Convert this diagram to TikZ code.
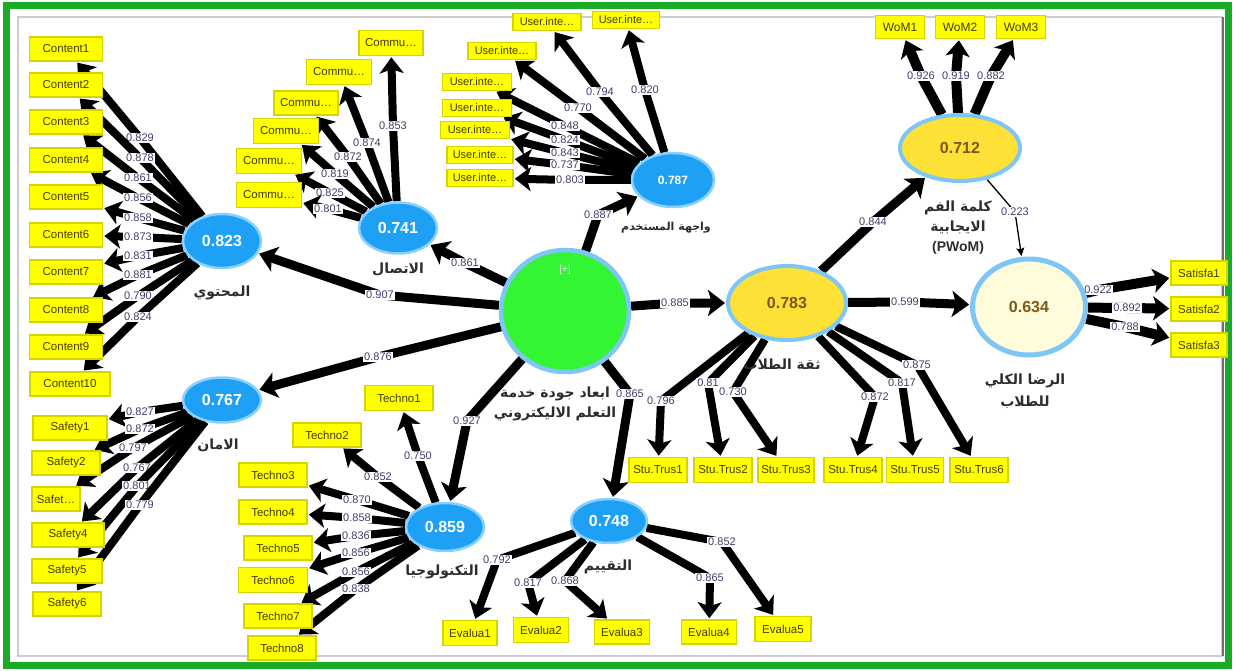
\documentclass[tikz,border=0pt]{standalone}
\usepackage{fontspec}
\setmainfont{Liberation Sans}
\newfontfamily\arabicfont[Script=Arabic]{DejaVu Sans}
\TeXXeTstate=1
\usetikzlibrary{arrows.meta,shapes.geometric}

\definecolor{frameGreen}{RGB}{26,172,38}
\definecolor{innerGray}{RGB}{205,205,205}
\definecolor{edgeGray}{RGB}{110,110,110}
\definecolor{boxFill}{RGB}{255,255,0}
\definecolor{boxEdge}{RGB}{212,212,0}
\definecolor{boxText}{RGB}{70,60,0}
\definecolor{lvBlue}{RGB}{30,160,245}
\definecolor{lvEdge}{RGB}{135,208,255}
\definecolor{ringBlue}{RGB}{125,198,245}
\definecolor{coreGreen}{RGB}{52,245,52}
\definecolor{gold}{RGB}{253,225,55}
\definecolor{cream}{RGB}{254,252,218}
\definecolor{brownText}{RGB}{125,88,22}
\definecolor{numText}{RGB}{62,62,108}
\definecolor{arText}{RGB}{45,45,45}

% right-to-left Arabic run
\newcommand\artxt[1]{{\arabicfont\beginR #1\endR}}
% loading arrow: source, target, label point, label
\newcommand\lnk[5][]{\draw[loading,#1] (#2) -- #4 node[num]{#5} -- (#3);}

\pgfdeclarelayer{links}
\pgfsetlayers{links,main}

\begin{document}
\begin{tikzpicture}[x=1pt,y=-1pt,
  ind/.style={rectangle, draw=boxEdge, fill=boxFill, line width=1.6pt, inner sep=0pt,
    minimum height=24pt, text=boxText, font=\fontsize{11.5}{13}\selectfont},
  indsm/.style={ind, minimum height=17pt, font=\fontsize{11}{12}\selectfont},
  lv/.style={ellipse, draw=lvEdge, fill=lvBlue, line width=2.5pt, inner sep=0pt,
    text=white, font=\bfseries\fontsize{16}{18}\selectfont},
  lvgold/.style={ellipse, draw=ringBlue, fill=gold, line width=4pt, inner sep=0pt,
    text=brownText, font=\bfseries\fontsize{16}{18}\selectfont},
  lvcream/.style={lvgold, fill=cream, line width=5pt},
  arlab/.style={align=center, text=arText, font=\arabicfont\bfseries\fontsize{14}{20}\selectfont},
  num/.style={fill=white, inner sep=1pt, text=numText, font=\fontsize{11}{12}\selectfont},
  loading/.style={line width=8pt, line join=round,
    -{Stealth[length=16pt,width=24pt,inset=4pt]}, shorten >=1pt},
  structl/.style={line width=9pt, -{Stealth[length=17pt,width=26pt,inset=4pt]}},
  thinl/.style={line width=1.3pt, -{Stealth[length=8pt,width=8pt,inset=1.5pt]}}
]
\useasboundingbox (0,0) rectangle (1234,671);

% frame
\draw[innerGray, line width=1.2pt] (18,17) rectangle (1222,656);
\draw[edgeGray, line width=1.5pt] (1223,17) -- (1223,656);
\draw[frameGreen, line width=7pt] (6,6) rectangle (1228,665);

% latent variables
\node[lv, minimum width=78pt, minimum height=54pt] (cont) at (222,241) {0.823};
\node[lv, minimum width=78pt, minimum height=51pt] (comm) at (398,228) {0.741};
\node[lv, minimum width=82pt, minimum height=54pt, font=\bfseries\fontsize{12}{14}\selectfont] (ui) at (673,180) {0.787};
\node[ellipse, draw=ringBlue, fill=coreGreen, line width=4.5pt, minimum width=128pt, minimum height=122pt, inner sep=0pt] (core) at (565,311) {};
\node[text=white, font=\fontsize{10}{12}\selectfont] (plus) at (565,270) {[+]};
\node[lvgold, minimum width=118pt, minimum height=74pt] (trust) at (787,303) {0.783};
\node[lvgold, minimum width=120pt, minimum height=66pt] (wom) at (960,148) {0.712};
\node[lvcream, minimum width=113pt, minimum height=96pt] (sat) at (1029,307) {0.634};
\node[lv, minimum width=76pt, minimum height=44pt] (eval) at (609,521) {0.748};
\node[lv, minimum width=78pt, minimum height=48pt] (tech) at (445,527) {0.859};
\node[lv, minimum width=78pt, minimum height=45pt] (safe) at (222,400) {0.767};

% construct names
\node[arlab] (contL) at (222,293) {\artxt{المحتوي}};
\node[arlab] (commL) at (398,269) {\artxt{الاتصال}};
\node[arlab, font=\arabicfont\bfseries\fontsize{11}{13}\selectfont] (uiL) at (666,228) {\artxt{واجهة المستخدم}};
\node[arlab] (coreL) at (555,404) {\artxt{ابعاد جودة خدمة}\\\artxt{التعلم الاليكتروني}};
\node[arlab] (trustL) at (782,365) {\artxt{ثقة الطلاب}};
\node[arlab] (womL) at (958,228) {\artxt{كلمة الفم}\\\artxt{الايجابية}\\{\rmfamily (PWoM)}};
\node[arlab, font=\arabicfont\bfseries\fontsize{14}{22}\selectfont] (satL) at (1025,391) {\artxt{الرضا الكلي}\\\artxt{للطلاب}};
\node[arlab] (safeL) at (218,445) {\artxt{الامان}};
\node[arlab] (techL) at (442,572) {\artxt{التكنولوجيا}};
\node[arlab] (evalL) at (608,567) {\artxt{التقييم}};

% content indicators
\node[ind, minimum width=73pt] (k1) at (66,49) {Content1};
\node[ind, minimum width=73pt] (k2) at (66,85) {Content2};
\node[ind, minimum width=73pt] (k3) at (66,122) {Content3};
\node[ind, minimum width=73pt] (k4) at (66,160) {Content4};
\node[ind, minimum width=73pt] (k5) at (66,197) {Content5};
\node[ind, minimum width=73pt] (k6) at (66,235) {Content6};
\node[ind, minimum width=73pt] (k7) at (66,272) {Content7};
\node[ind, minimum width=73pt] (k8) at (66,310) {Content8};
\node[ind, minimum width=73pt] (k9) at (66,347) {Content9};
\node[ind, minimum width=80pt] (k10) at (70,384) {Content10};

% communication indicators
\node[ind, minimum width=64pt, minimum height=25pt] (c1) at (391,43) {Commu…};
\node[ind, minimum width=65pt, minimum height=25pt] (c2) at (339,72) {Commu…};
\node[ind, minimum width=64pt] (c3) at (306,103) {Commu…};
\node[ind, minimum width=65pt, minimum height=25pt] (c4) at (286,131) {Commu…};
\node[ind, minimum width=65pt, minimum height=25pt] (c5) at (269,161) {Commu…};
\node[ind, minimum width=65pt, minimum height=25pt] (c6) at (269,195) {Commu…};

% user interface indicators
\node[indsm, minimum width=68pt] (u1) at (547,22) {User.inte…};
\node[indsm, minimum width=67pt] (u2) at (626,20) {User.inte…};
\node[indsm, minimum width=68pt] (u3) at (502,51) {User.inte…};
\node[indsm, minimum width=69pt] (u4) at (477,82) {User.inte…};
\node[indsm, minimum width=69pt] (u5) at (477,108) {User.inte…};
\node[indsm, minimum width=69pt] (u6) at (475,130) {User.inte…};
\node[indsm, minimum width=66pt] (u7) at (480,155) {User.inte…};
\node[indsm, minimum width=66pt] (u8) at (480,178) {User.inte…};

% word of mouth indicators
\node[ind, minimum width=49pt, minimum height=23pt, font=\fontsize{12}{13}\selectfont] (w1) at (900,27) {WoM1};
\node[ind, minimum width=49pt, minimum height=23pt, font=\fontsize{12}{13}\selectfont] (w2) at (960,27) {WoM2};
\node[ind, minimum width=49pt, minimum height=23pt, font=\fontsize{12}{13}\selectfont] (w3) at (1021,27) {WoM3};

% satisfaction indicators
\node[ind, minimum width=56pt] (sa1) at (1199,273) {Satisfa1};
\node[ind, minimum width=56pt] (sa2) at (1199,309) {Satisfa2};
\node[ind, minimum width=56pt] (sa3) at (1199,345) {Satisfa3};

% trust indicators
\node[ind, minimum width=58pt, minimum height=25pt] (s1) at (658,470) {Stu.Trus1};
\node[ind, minimum width=58pt, minimum height=25pt] (s2) at (723,470) {Stu.Trus2};
\node[ind, minimum width=56pt, minimum height=25pt] (s3) at (786,470) {Stu.Trus3};
\node[ind, minimum width=58pt, minimum height=25pt] (s4) at (853,470) {Stu.Trus4};
\node[ind, minimum width=57pt, minimum height=25pt] (s5) at (915,470) {Stu.Trus5};
\node[ind, minimum width=58pt, minimum height=25pt] (s6) at (979,470) {Stu.Trus6};

% evaluation indicators
\node[ind, minimum width=54pt, minimum height=25pt] (e1) at (470,633) {Evalua1};
\node[ind, minimum width=55pt, minimum height=25pt] (e2) at (541,630) {Evalua2};
\node[ind, minimum width=55pt, minimum height=24pt] (e3) at (622,632) {Evalua3};
\node[ind, minimum width=55pt, minimum height=24pt] (e4) at (709,632) {Evalua4};
\node[ind, minimum width=56pt, minimum height=25pt] (e5) at (783,629) {Evalua5};

% technology indicators
\node[ind, minimum width=68pt, minimum height=25pt] (t1) at (399,398) {Techno1};
\node[ind, minimum width=68pt] (t2) at (327,435) {Techno2};
\node[ind, minimum width=68pt] (t3) at (273,475) {Techno3};
\node[ind, minimum width=68pt] (t4) at (273,512) {Techno4};
\node[ind, minimum width=68pt] (t5) at (278,548) {Techno5};
\node[ind, minimum width=69pt, minimum height=25pt] (t6) at (273,580) {Techno6};
\node[ind, minimum width=68pt] (t7) at (278,616) {Techno7};
\node[ind, minimum width=68pt] (t8) at (282,648) {Techno8};

% safety indicators
\node[ind, minimum width=74pt] (sf1) at (70,428) {Safety1};
\node[ind, minimum width=68pt] (sf2) at (66,463) {Safety2};
\node[ind, minimum width=48pt] (sf3) at (56,499) {Safet…};
\node[ind, minimum width=72pt] (sf4) at (68,535) {Safety4};
\node[ind, minimum width=70pt] (sf5) at (67,571) {Safety5};
\node[ind, minimum width=68pt] (sf6) at (67,604) {Safety6};

\begin{pgfonlayer}{links}
% outer loadings: content
\lnk{cont}{k1}{(140,138)}{0.829}
\lnk{cont}{k2}{(140,158)}{0.878}
\lnk{cont}{k3}{(138,178)}{0.861}
\lnk{cont}{k4}{(138,198)}{0.856}
\lnk{cont}{k5}{(138,218)}{0.858}
\lnk{cont}{k6}{(138,237)}{0.873}
\lnk{cont}{k7}{(138,256)}{0.831}
\lnk{cont}{k8}{(138,275)}{0.881}
\lnk{cont}{k9}{(138,296)}{0.790}
\lnk{cont}{k10}{(138,317)}{0.824}
% communication
\lnk{comm}{c1}{(393,126)}{0.853}
\lnk{comm}{c2}{(367,143)}{0.874}
\lnk{comm}{c3}{(348,157)}{0.872}
\lnk{comm}{c4}{(335,174)}{0.819}
\lnk{comm}{c5}{(330,193)}{0.825}
\lnk{comm}{c6}{(328,209)}{0.801}
% user interface
\lnk{ui}{u1}{(600,92)}{0.794}
\lnk{ui}{u2}{(645,90)}{0.820}
\lnk{ui}{u3}{(578,108)}{0.770}
\lnk{ui}{u4}{(565,126)}{0.848}
\lnk{ui}{u5}{(565,140)}{0.824}
\lnk{ui}{u6}{(565,153)}{0.843}
\lnk{ui}{u7}{(565,165)}{0.737}
\lnk{ui}{u8}{(570,180)}{0.803}
% word of mouth
\lnk[line width=10pt]{wom}{w1}{(921,76)}{0.926}
\lnk[line width=10pt]{wom}{w2}{(956,76)}{0.919}
\lnk[line width=10pt]{wom}{w3}{(991,76)}{0.882}
% satisfaction
\lnk[line width=10pt]{sat}{sa1}{(1098,290)}{0.922}
\lnk[line width=10pt]{sat}{sa2}{(1127,308)}{0.892}
\lnk[line width=10pt]{sat}{sa3}{(1125,327)}{0.788}
% trust
\lnk{trust}{s1}{(661,401)}{0.796}
\lnk{trust}{s2}{(708,383)}{0.81}
\lnk{trust}{s3}{(733,392)}{0.730}
\lnk{trust}{s4}{(875,397)}{0.872}
\lnk{trust}{s5}{(902,383)}{0.817}
\lnk{trust}{s6}{(917,365)}{0.875}
% evaluation
\lnk{eval}{e1}{(497,560)}{0.792}
\lnk{eval}{e2}{(528,583)}{0.817}
\lnk{eval}{e3}{(565,581)}{0.868}
\lnk{eval}{e4}{(710,578)}{0.865}
\lnk{eval}{e5}{(722,542)}{0.852}
% technology
\lnk{tech}{t1}{(418,456)}{0.750}
\lnk{tech}{t2}{(378,477)}{0.852}
\lnk{tech}{t3}{(357,500)}{0.870}
\lnk{tech}{t4}{(357,518)}{0.858}
\lnk{tech}{t5}{(356,536)}{0.836}
\lnk{tech}{t6}{(356,553)}{0.856}
\lnk{tech}{t7}{(356,572)}{0.856}
\lnk{tech}{t8}{(356,589)}{0.838}
% safety
\lnk{safe}{sf1}{(140,412)}{0.827}
\lnk{safe}{sf2}{(140,429)}{0.872}
\lnk{safe}{sf3}{(133,448)}{0.797}
\lnk{safe}{sf4}{(137,468)}{0.767}
\lnk{safe}{sf5}{(137,486)}{0.801}
\lnk{safe}{sf6}{(140,505)}{0.779}
% structural paths
\lnk[structl]{core}{cont}{(380,295)}{0.907}
\lnk[structl]{core}{comm}{(465,263)}{0.861}
\lnk[structl]{core}{ui}{(598,215)}{0.887}
\lnk[structl]{core}{safe}{(378,357)}{0.876}
\lnk[structl]{core}{tech}{(467,421)}{0.927}
\lnk[structl]{core}{eval}{(630,394)}{0.865}
\lnk[structl]{core}{trust}{(675,303)}{0.885}
\lnk[structl]{trust}{wom}{(873,222)}{0.844}
\lnk[structl]{trust}{sat}{(905,302)}{0.599}
\lnk[thinl]{wom}{sat}{(1015,212)}{0.223}
\end{pgfonlayer}
\end{tikzpicture}
\end{document}
